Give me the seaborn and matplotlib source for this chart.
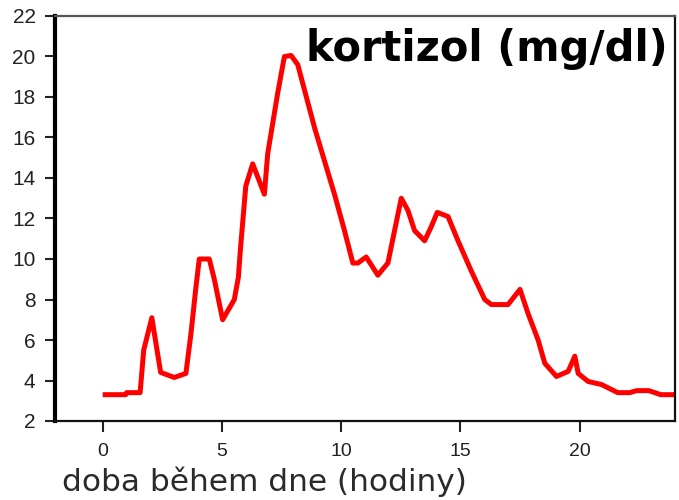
import matplotlib
matplotlib.use("Agg")
import matplotlib.pyplot as plt
import seaborn as sns
import pandas as pd

# Cortisol level over the course of a day
hours = [0, 0.97, 1.0, 1.57, 1.72, 2.06, 2.43, 3.0, 3.49, 3.7, 3.9, 4.05, 4.47,
         4.68, 5.03, 5.52, 5.69, 5.77, 6.0, 6.29, 6.78, 6.92, 7.34, 7.62, 7.9,
         8.18, 8.88, 9.72, 10.14, 10.49, 10.7, 11.05, 11.54, 11.96, 12.24,
         12.52, 12.8, 13.08, 13.5, 13.78, 14.03, 14.48, 14.9, 15.46, 16.02,
         16.3, 17.0, 17.5, 17.84, 18.26, 18.54, 19.03, 19.52, 19.8, 19.94,
         20.36, 20.92, 21.6, 22.1, 22.4, 22.9, 23.4, 24.0]
cortisol = [3.3, 3.3, 3.4, 3.4, 5.5, 7.1, 4.4, 4.15, 4.35, 6.3, 8.5, 10.0, 10.0,
            9.0, 7.0, 8.0, 9.1, 10.4, 13.6, 14.7, 13.2, 15.2, 18.2, 20.0, 20.05,
            19.6, 16.5, 13.2, 11.4, 9.8, 9.8, 10.1, 9.2, 9.8, 11.4,
            13.0, 12.4, 11.4, 10.9, 11.6, 12.3, 12.1, 10.9, 9.4, 8.0,
            7.75, 7.75, 8.5, 7.3, 6.0, 4.85, 4.2, 4.45, 5.2, 4.35,
            3.95, 3.8, 3.4, 3.4, 3.5, 3.5, 3.3, 3.3]
x_ticks = [0, 5, 10, 15, 20]
y_ticks = [2, 4, 6, 8, 10, 12, 14, 16, 18, 20, 22]

df = pd.DataFrame({"hodiny": hours, "kortizol": cortisol})

sns.set_style("ticks")
plt.rcParams["font.family"] = ["Liberation Sans", "DejaVu Sans"]

fig = plt.figure(figsize=(6.79, 5.0), dpi=100)
ax = fig.add_axes([55 / 679, 1 - 421 / 500, 620 / 679, 405 / 500])

sns.lineplot(data=df, x="hodiny", y="kortizol", ax=ax, color="#ff0000",
             linewidth=3.6, solid_joinstyle="round", solid_capstyle="butt")

ax.set_xlim(-2, 24)
ax.set_ylim(2, 22)
ax.set_xticks(x_ticks)
ax.set_yticks(y_ticks)
ax.set_xlabel("")
ax.set_ylabel("")

for side in ["left", "right", "top", "bottom"]:
    ax.spines[side].set_visible(True)
ax.spines["left"].set_linewidth(3.0)
ax.spines["left"].set_color("black")
ax.spines["bottom"].set_linewidth(1.6)
ax.spines["bottom"].set_color("#111111")
ax.spines["right"].set_linewidth(1.6)
ax.spines["right"].set_color("#111111")
ax.spines["top"].set_linewidth(1.6)
ax.spines["top"].set_color("#555555")

ax.tick_params(axis="y", length=7, width=1.5, color="#222222",
               labelsize=15, labelcolor="#222222", pad=7)
ax.tick_params(axis="x", length=8, width=1.5, color="#222222",
               labelsize=14, labelcolor="#222222", pad=8)

ax.text(0.988, 0.97, "kortizol (mg/dl)", transform=ax.transAxes,
        ha="right", va="top", fontsize=30, fontweight="bold",
        family=["DejaVu Sans"], color="black")

fig.text(62 / 679, 1 - 491 / 500, "doba během dne (hodiny)",
         ha="left", va="baseline", fontsize=22.5, color="#2a2a2a",
         family=["DejaVu Sans"])

fig.savefig("out.png", dpi=100)
